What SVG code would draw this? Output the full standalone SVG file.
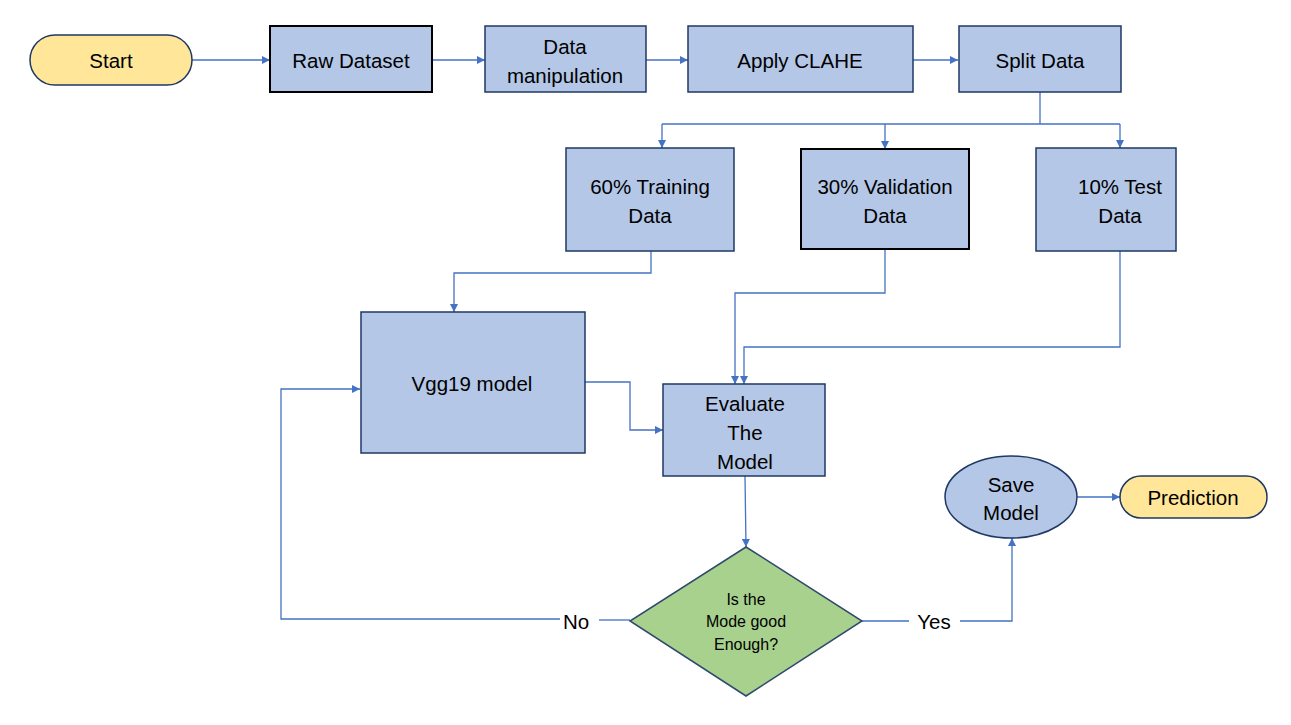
<svg xmlns="http://www.w3.org/2000/svg" width="1291" height="725" viewBox="0 0 1291 725">
<defs>
<marker id="arr" viewBox="0 0 10 10" refX="10" refY="5" markerWidth="9" markerHeight="8" markerUnits="userSpaceOnUse" orient="auto">
<path d="M0,0 L10,5 L0,10 z" fill="#4472C4"/>
</marker>
<style>
.box{fill:#B4C7E7;stroke:#1F3864;stroke-width:1.5}
.boxk{fill:#B4C7E7;stroke:#000;stroke-width:2}
.term{fill:#FFE699;stroke:#1F3864;stroke-width:1.5}
.dia{fill:#A9D18E;stroke:#2F4B6C;stroke-width:1.5}
.t{font-family:"Liberation Sans",Arial,sans-serif;font-size:20.5px;fill:#000;text-anchor:middle;dominant-baseline:central}
.s{font-family:"Liberation Sans",Arial,sans-serif;font-size:16px;fill:#000;text-anchor:middle;dominant-baseline:central}
.c{fill:none;stroke:#4472C4;stroke-width:1.3}
</style>
</defs>
<rect width="1291" height="725" fill="#fff"/>
<g id="connectors">
<path class="c" d="M192,60 H270" marker-end="url(#arr)"/>
<path class="c" d="M432,60 H485" marker-end="url(#arr)"/>
<path class="c" d="M646,60 H688" marker-end="url(#arr)"/>
<path class="c" d="M913,60 H958" marker-end="url(#arr)"/>
<path class="c" d="M1040,92 V124"/>
<path class="c" d="M662,124 H1120"/>
<path class="c" d="M662,124 V148" marker-end="url(#arr)"/>
<path class="c" d="M885,124 V149" marker-end="url(#arr)"/>
<path class="c" d="M1120,124 V148" marker-end="url(#arr)"/>
<path class="c" d="M651,251 V273 H454 V312" marker-end="url(#arr)"/>
<path class="c" d="M885,249 V293 H735 V384" marker-end="url(#arr)"/>
<path class="c" d="M1120,251 V347 H744 V384" marker-end="url(#arr)"/>
<path class="c" d="M585,382 H630 V430 H663" marker-end="url(#arr)"/>
<path class="c" d="M745,476 L746,547" marker-end="url(#arr)"/>
<path class="c" d="M630,620 H599"/>
<path class="c" d="M560,619 H281 V389 H360" marker-end="url(#arr)"/>
<path class="c" d="M862,621 H909"/>
<path class="c" d="M960,621 H1012 V538" marker-end="url(#arr)"/>
<path class="c" d="M1077,497 H1120" marker-end="url(#arr)"/>
<text class="t" x="576" y="621">No</text>
<text class="t" x="934" y="621">Yes</text>
</g>
<g id="start">
<rect class="term" x="30" y="35" width="162" height="50" rx="25"/>
<text class="t" x="111" y="60">Start</text>
</g>
<g id="raw-dataset">
<rect class="boxk" x="270" y="26" width="162" height="66"/>
<text class="t" x="351" y="60">Raw Dataset</text>
</g>
<g id="data-manipulation">
<rect class="box" x="485" y="26" width="161" height="66"/>
<text class="t" x="565" y="46">Data</text>
<text class="t" x="565" y="75">manipulation</text>
</g>
<g id="apply-clahe">
<rect class="box" x="688" y="26" width="225" height="66"/>
<text class="t" x="800" y="60">Apply CLAHE</text>
</g>
<g id="split-data">
<rect class="box" x="959" y="26" width="162" height="66"/>
<text class="t" x="1040" y="60">Split Data</text>
</g>
<g id="training">
<rect class="box" x="566" y="148" width="168" height="103"/>
<text class="t" x="650" y="186">60% Training</text>
<text class="t" x="650" y="215">Data</text>
</g>
<g id="validation">
<rect class="boxk" x="801" y="149" width="168" height="100"/>
<text class="t" x="885" y="186">30% Validation</text>
<text class="t" x="885" y="215">Data</text>
</g>
<g id="test">
<rect class="box" x="1036" y="148" width="140" height="103"/>
<text class="t" x="1120" y="186">10% Test</text>
<text class="t" x="1120" y="215">Data</text>
</g>
<g id="vgg19">
<rect class="box" x="361" y="312" width="224" height="141"/>
<text class="t" x="472" y="383">Vgg19 model</text>
</g>
<g id="evaluate">
<rect class="box" x="663" y="384" width="162" height="92"/>
<text class="t" x="745" y="403">Evaluate</text>
<text class="t" x="745" y="432">The</text>
<text class="t" x="745" y="461">Model</text>
</g>
<g id="decision">
<polygon class="dia" points="746,547 862,621 746,696 630,621"/>
<text class="s" x="746" y="599">Is the</text>
<text class="s" x="746" y="621">Mode good</text>
<text class="s" x="746" y="644">Enough?</text>
</g>
<g id="save-model">
<ellipse class="box" cx="1011" cy="497" rx="66" ry="41"/>
<text class="t" x="1011" y="484">Save</text>
<text class="t" x="1011" y="512">Model</text>
</g>
<g id="prediction">
<rect class="term" x="1120" y="476" width="147" height="42" rx="21"/>
<text class="t" x="1193" y="497">Prediction</text>
</g>
</svg>
